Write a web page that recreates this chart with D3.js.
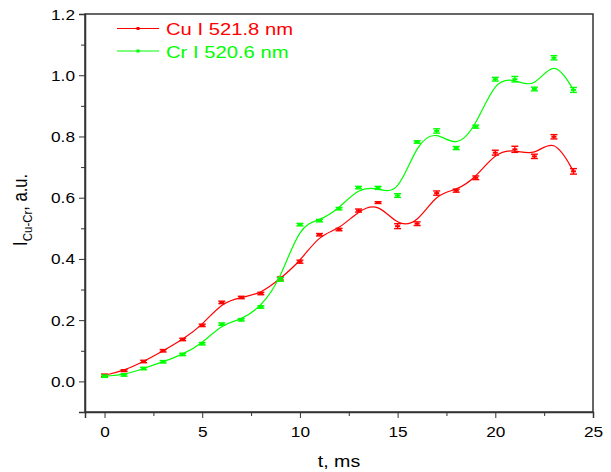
<!DOCTYPE html>
<html>
<head>
<meta charset="utf-8">
<script src="https://cdn.jsdelivr.net/npm/d3@7"></script>
<style>
  body { margin: 0; background: #fff; }
  text { font-family: "Liberation Sans", Arial, sans-serif; }
</style>
</head>
<body>
<div id="chart"></div>
<script>
// data
var tValues = [0, 1, 2, 3, 4, 5, 6, 7, 8, 9, 10, 11, 12, 13, 14, 15, 16, 17, 18, 19, 20, 21, 22, 23, 24];
var cuValues = [0.020, 0.035, 0.065, 0.100, 0.137, 0.183, 0.258, 0.274, 0.287, 0.336, 0.391, 0.479, 0.496,
  0.558, 0.584, 0.507, 0.515, 0.615, 0.623, 0.665, 0.747, 0.758, 0.735, 0.799, 0.686];
var cuErrors = [0.004, 0.003, 0.004, 0.004, 0.004, 0.004, 0.004, 0.004, 0.004, 0.005, 0.005, 0.004, 0.004,
  0.005, 0.003, 0.008, 0.006, 0.007, 0.005, 0.006, 0.008, 0.010, 0.007, 0.007, 0.009];
var crValues = [0.017, 0.021, 0.042, 0.064, 0.088, 0.123, 0.187, 0.201, 0.243, 0.333, 0.512, 0.525, 0.564,
  0.633, 0.632, 0.607, 0.782, 0.818, 0.762, 0.832, 0.987, 0.987, 0.955, 1.057, 0.952];
var crErrors = [0.004, 0.004, 0.004, 0.004, 0.004, 0.004, 0.004, 0.004, 0.004, 0.006, 0.004, 0.004, 0.004,
  0.004, 0.005, 0.006, 0.004, 0.007, 0.005, 0.005, 0.006, 0.009, 0.006, 0.007, 0.008];
var seriesNames = ["Cu I 521.8 nm", "Cr I 520.6 nm"];
var seriesColors = ["#ff0000", "#00ff00"];
var xTicks = [0, 5, 10, 15, 20, 25];
var yTicks = [0.0, 0.2, 0.4, 0.6, 0.8, 1.0, 1.2];

// the picture's lettering is a bit wider than it is tall
var stretch = 1.19;

var margin = { top: 14, right: 18, bottom: 60, left: 85 },
  width = 611 - margin.left - margin.right,
  height = 472 - margin.top - margin.bottom;

var svg = d3.select("#chart")
  .append("svg")
  .attr("width", 611)
  .attr("height", 472)
  .append("g")
  .attr("transform", "translate(" + margin.left + "," + margin.top + ")");

var x = d3.scaleLinear().domain([-1, 25]).range([0, width]);
var y = d3.scaleLinear().domain([-0.1, 1.2]).range([height, 0]);

// frame (top and right lines have no ticks)
svg.append("rect")
  .attr("width", width)
  .attr("height", height)
  .attr("fill", "none")
  .attr("stroke", "#333")
  .attr("stroke-width", 1.5);

// minor ticks
svg.append("g")
  .attr("transform", "translate(0," + height + ")")
  .call(d3.axisBottom(x).tickValues([2.5, 7.5, 12.5, 17.5, 22.5]).tickSize(4).tickFormat(""))
  .call(g => g.select(".domain").remove());
svg.append("g")
  .call(d3.axisLeft(y).tickValues([0.1, 0.3, 0.5, 0.7, 0.9, 1.1]).tickSize(4).tickFormat(""))
  .call(g => g.select(".domain").remove());

// major axes
var xAxis = svg.append("g")
  .attr("transform", "translate(0," + height + ")")
  .call(d3.axisBottom(x).tickValues(xTicks).tickSize(6).tickFormat(d3.format("d")));
var yAxis = svg.append("g")
  .call(d3.axisLeft(y).tickValues(yTicks).tickSize(6).tickFormat(d3.format(".1f")));

[xAxis, yAxis].forEach(function (a) {
  a.select(".domain").attr("stroke", "#333").attr("stroke-width", 1.5);
  a.selectAll("text")
    .style("font-size", "14.5px")
    .style("font-family", "Liberation Sans, Arial, sans-serif")
    .attr("fill", "#000");
});
xAxis.selectAll("text")
  .attr("y", 0).attr("dy", 0)
  .attr("transform", "translate(0,25) scale(" + stretch + ",1)");
yAxis.selectAll("text")
  .attr("x", 0).attr("dy", "0.35em")
  .attr("transform", "translate(-10,0) scale(" + stretch + ",1)");
svg.selectAll(".tick line").attr("stroke", "#333");

// axis titles
svg.append("text")
  .attr("transform", "translate(" + x(12) + "," + (height + 55) + ") scale(" + stretch + ",1)")
  .attr("text-anchor", "middle")
  .style("font-size", "16.5px")
  .text("t, ms");

var yTitle = svg.append("text")
  .attr("transform", "translate(" + (-58) + "," + y(0.56) + ") scale(" + stretch + ",1) rotate(-90)")
  .attr("text-anchor", "middle")
  .style("font-size", "16.5px");
yTitle.append("tspan").text("I");
yTitle.append("tspan").attr("dy", "4").style("font-size", "11.5px").text("Cu-Cr");
yTitle.append("tspan").attr("dy", "-4").text(", a.u.");

// series
var series = [
  { name: seriesNames[0], color: seriesColors[0], values: cuValues, errors: cuErrors },
  { name: seriesNames[1], color: seriesColors[1], values: crValues, errors: crErrors }
];

var line = d3.line()
  .x(function (d) { return x(d.t); })
  .y(function (d) { return y(d.v); })
  .curve(d3.curveBasis);

series.forEach(function (s) {
  var pts = tValues.map(function (t, i) { return { t: t, v: s.values[i], e: s.errors[i] }; });

  svg.append("path")
    .datum(pts)
    .attr("d", line)
    .attr("fill", "none")
    .attr("stroke", s.color)
    .attr("stroke-width", 1.2);

  var g = svg.append("g").attr("stroke", s.color).attr("stroke-width", 1.4);
  g.selectAll(".bar")
    .data(pts)
    .enter()
    .append("line")
    .attr("x1", function (d) { return x(d.t); })
    .attr("x2", function (d) { return x(d.t); })
    .attr("y1", function (d) { return y(d.v - d.e); })
    .attr("y2", function (d) { return y(d.v + d.e); });
  g.selectAll(".capTop")
    .data(pts)
    .enter()
    .append("line")
    .attr("x1", function (d) { return x(d.t) - 3.5; })
    .attr("x2", function (d) { return x(d.t) + 3.5; })
    .attr("y1", function (d) { return y(d.v + d.e); })
    .attr("y2", function (d) { return y(d.v + d.e); });
  g.selectAll(".capBottom")
    .data(pts)
    .enter()
    .append("line")
    .attr("x1", function (d) { return x(d.t) - 3.5; })
    .attr("x2", function (d) { return x(d.t) + 3.5; })
    .attr("y1", function (d) { return y(d.v - d.e); })
    .attr("y2", function (d) { return y(d.v - d.e); });
  g.selectAll(".mark")
    .data(pts)
    .enter()
    .append("rect")
    .attr("x", function (d) { return x(d.t) - 2.5; })
    .attr("y", function (d) { return y(d.v) - 1; })
    .attr("width", 5)
    .attr("height", 2)
    .attr("fill", s.color)
    .attr("stroke", "none");
});

// legend
var legend = svg.append("g").attr("transform", "translate(32,14.5)");
series.forEach(function (s, i) {
  var row = legend.append("g").attr("transform", "translate(0," + (i * 22.5) + ")");
  row.append("line")
    .attr("x1", 0).attr("x2", 42)
    .attr("stroke", s.color)
    .attr("stroke-width", 1);
  row.append("rect")
    .attr("x", 19.5).attr("y", -1.5)
    .attr("width", 3).attr("height", 3)
    .attr("fill", s.color);
  row.append("text")
    .attr("transform", "translate(49,6.5) scale(" + stretch + ",1)")
    .style("font-size", "17px")
    .attr("fill", s.color)
    .text(s.name);
});
</script>
</body>
</html>
